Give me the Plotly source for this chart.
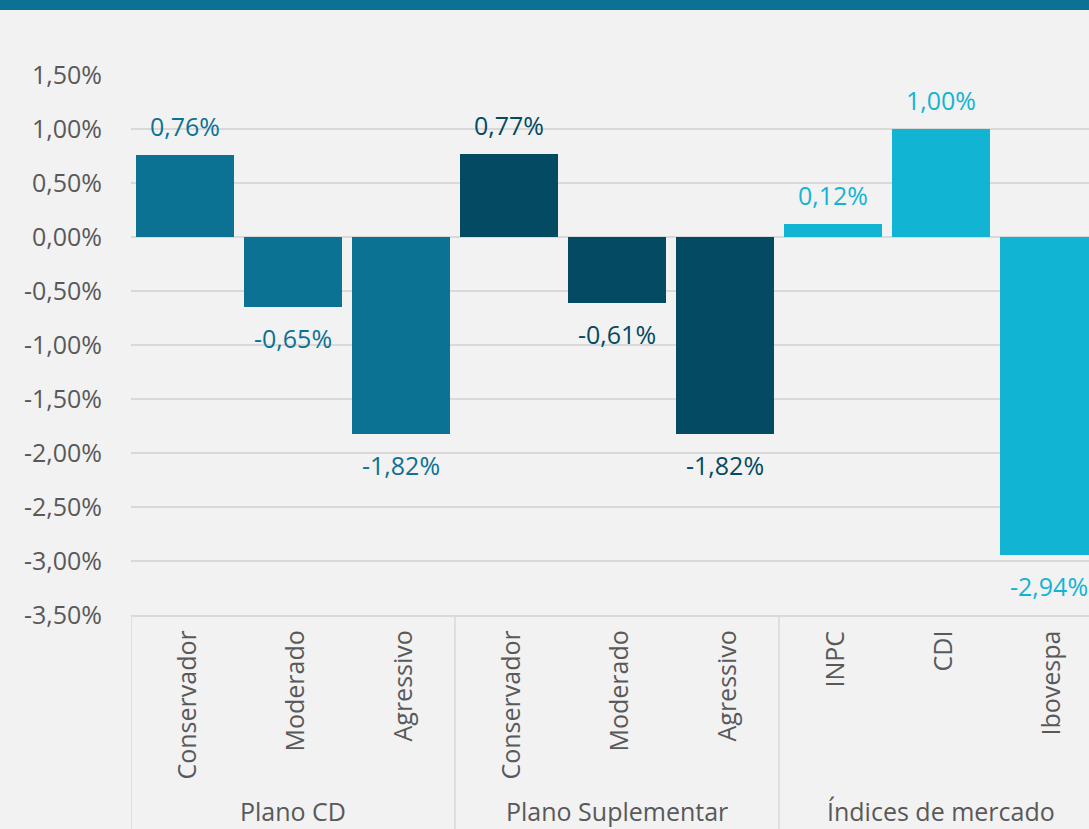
import plotly.graph_objects as go

categories = ["Conservador", "Moderado", "Agressivo",
              "Conservador", "Moderado", "Agressivo",
              "INPC", "CDI", "Ibovespa"]
groups = ["Plano CD", "Plano Suplementar", "Índices de mercado"]
group_sizes = [3, 3, 3]
values = [0.76, -0.65, -1.82, 0.77, -0.61, -1.82, 0.12, 1.00, -2.94]
labels = ["0,76%", "-0,65%", "-1,82%", "0,77%", "-0,61%", "-1,82%", "0,12%", "1,00%", "-2,94%"]
group_colors = ["#0B7294", "#044A62", "#12B4D4"]
tick_vals = [1.5, 1.0, 0.5, 0.0, -0.5, -1.0, -1.5, -2.0, -2.5, -3.0, -3.5]
tick_text = ["1,50%", "1,00%", "0,50%", "0,00%", "-0,50%", "-1,00%", "-1,50%",
             "-2,00%", "-2,50%", "-3,00%", "-3,50%"]

FONT = "Open Sans"
FS = 25
GRAY = "#595959"
W, H = 1089, 829
ML, MR, MT, MB = 131, 0, 75, 214
PH = H - MT - MB

bar_colors = []
for g, n in enumerate(group_sizes):
    bar_colors += [group_colors[g]] * n

xs = list(range(len(categories)))

fig = go.Figure()
fig.add_trace(go.Bar(x=xs, y=values, marker=dict(color=bar_colors, line=dict(width=0)),
                     width=0.907, hoverinfo="skip"))

annotations = []
for i, (v, t) in enumerate(zip(values, labels)):
    annotations.append(dict(x=i, y=v, xref="x", yref="y", text=t, showarrow=False,
                            yanchor="bottom" if v >= 0 else "top",
                            yshift=10 if v >= 0 else -12,
                            font=dict(family=FONT, size=FS, color=bar_colors[i])))
for i, c in enumerate(categories):
    annotations.append(dict(x=i, y=-14 / PH, xref="x", yref="paper", text=c, showarrow=False,
                            textangle=-90, xanchor="center", yanchor="top",
                            font=dict(family=FONT, size=FS, color=GRAY)))
shapes = []
start = 0
for g, n in enumerate(group_sizes):
    center = start + (n - 1) / 2
    annotations.append(dict(x=center, y=-(811 - 615) / PH, xref="x", yref="paper", text=groups[g],
                            showarrow=False, xanchor="center", yanchor="middle",
                            font=dict(family=FONT, size=FS, color=GRAY)))
    shapes.append(dict(type="line", xref="x", yref="paper", x0=start - 0.5, x1=start - 0.5,
                       y0=0, y1=-MB / PH - 0.01, line=dict(color="#D9D9D9", width=1.5)))
    start += n
shapes.append(dict(type="line", xref="x", yref="paper", x0=start - 0.5, x1=start - 0.5,
                   y0=0, y1=-MB / PH - 0.01, line=dict(color="#D9D9D9", width=1.5)))
# top band
shapes.append(dict(type="rect", xref="paper", yref="paper", x0=-ML / (W - ML) - 0.01, x1=1.01,
                   y0=1 + (MT - 10) / PH, y1=1 + MT / PH + 0.01,
                   fillcolor="#0B7294", line=dict(width=0), layer="above"))

fig.update_layout(
    width=W, height=H,
    margin=dict(l=ML, r=MR, t=MT, b=MB, pad=0),
    paper_bgcolor="#F2F2F2", plot_bgcolor="#F2F2F2",
    showlegend=False, bargap=0,
    annotations=annotations, shapes=shapes,
    xaxis=dict(range=[-0.5, (W - ML) / 108 - 0.5], showticklabels=False, showgrid=False,
               zeroline=False, showline=True, linecolor="#D9D9D9", linewidth=1.5,
               fixedrange=True),
    yaxis=dict(range=[-3.5, 1.5], tickvals=tick_vals, ticktext=tick_text,
               showgrid=True, gridcolor="#D9D9D9", gridwidth=1.5, zeroline=False,
               ticks="outside", ticklen=23, tickcolor="rgba(0,0,0,0)",
               tickfont=dict(family=FONT, size=FS, color=GRAY), fixedrange=True),
)
fig.write_html("out.html", config={"displayModeBar": False},
               post_script="document.body.style.margin='0';document.body.style.overflow='hidden';"
                           "document.body.style.background='#F2F2F2';")
